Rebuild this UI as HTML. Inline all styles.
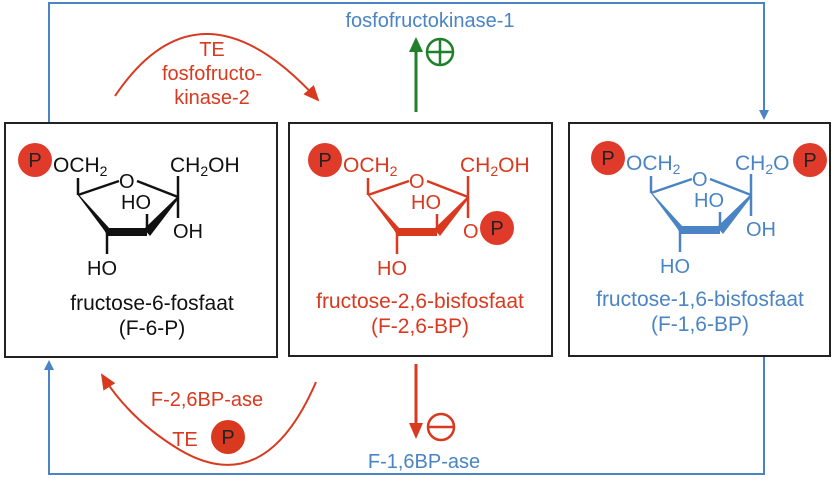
<!DOCTYPE html>
<html><head><meta charset="utf-8"><style>
html,body{margin:0;padding:0;background:#fff;}
svg{display:block;font-family:"Liberation Sans",Arial,sans-serif;}
</style></head><body>
<svg width="834" height="481" viewBox="0 0 834 481" xmlns="http://www.w3.org/2000/svg">
<defs>
<g id="mol">
  <line x1="78" y1="178" x2="78" y2="195" stroke-width="2.5"/>
  <line x1="78" y1="195" x2="119" y2="181" stroke-width="2.5"/>
  <line x1="137" y1="181" x2="178" y2="197" stroke-width="2.5"/>
  <polygon points="77,194 80,196 110,229 107,235 104,230" stroke="none"/>
  <polygon points="106,228 147,228 147,236 106,236" stroke="none"/>
  <polygon points="144,229 178,196 179,198 150,236" stroke="none"/>
  <line x1="147" y1="232" x2="147" y2="214" stroke-width="2.5"/>
  <line x1="107" y1="232" x2="107" y2="254" stroke-width="2.5"/>
  <line x1="178" y1="176" x2="178" y2="197" stroke-width="2.5"/>
  <line x1="178" y1="197" x2="178" y2="218" stroke-width="2.5"/>
  <text x="119" y="188" font-size="20" stroke="none">O</text>
  <text x="53" y="172" font-size="21" stroke="none">OCH<tspan font-size="14" dy="4">2</tspan></text>
  <text x="121" y="209" font-size="20" stroke="none">HO</text>
  <text x="87" y="275" font-size="20" stroke="none">HO</text>
  <circle cx="35" cy="160" r="17" fill="#e03a2a" stroke="none"/>
  <text x="35" y="167" font-size="20" fill="#222" stroke="none" text-anchor="middle">P</text>
</g>
<marker id="ab" markerWidth="10" markerHeight="10" refX="8" refY="5" orient="auto" markerUnits="userSpaceOnUse"><path d="M0,0 L10,5 L0,10 z" fill="#4a84c4"/></marker>
<marker id="ar" markerWidth="16" markerHeight="14" refX="14" refY="7" orient="auto" markerUnits="userSpaceOnUse"><path d="M0,0 L16,7 L0,14 z" fill="#d8391f"/></marker>
</defs>

<polyline points="49,122 49,3 764,3 764,118" fill="none" stroke="#4a84c4" stroke-width="2" marker-end="url(#ab)"/>
<polyline points="764,356 764,474 49,474 49,362" fill="none" stroke="#4a84c4" stroke-width="2" marker-end="url(#ab)"/>

<rect x="5" y="123" width="272" height="234" fill="#fff" stroke="#222" stroke-width="2"/>
<rect x="289" y="123" width="263" height="233" fill="#fff" stroke="#222" stroke-width="2"/>
<rect x="569" y="123" width="261" height="233" fill="#fff" stroke="#222" stroke-width="2"/>

<g fill="#111" stroke="#111"><use href="#mol"/>
<text x="170" y="172" font-size="21" stroke="none">CH<tspan font-size="14" dy="4">2</tspan><tspan dy="-4">OH</tspan></text>
<text x="173" y="238" font-size="20" stroke="none">OH</text></g>
<text x="152" y="310" font-size="21" fill="#111" text-anchor="middle">fructose-6-fosfaat</text>
<text x="152" y="335" font-size="21" fill="#111" text-anchor="middle">(F-6-P)</text>

<g fill="#d8391f" stroke="#d8391f" transform="translate(290,0)"><use href="#mol"/>
<text x="170" y="172" font-size="21" stroke="none">CH<tspan font-size="14" dy="4">2</tspan><tspan dy="-4">OH</tspan></text>
<text x="173" y="238" font-size="20" stroke="none">O</text>
<circle cx="207" cy="228" r="17" fill="#e03a2a" stroke="none"/>
<text x="207" y="235" font-size="20" fill="#222" stroke="none" text-anchor="middle">P</text></g>
<text x="420" y="308" font-size="21" fill="#d8391f" text-anchor="middle">fructose-2,6-bisfosfaat</text>
<text x="420" y="333" font-size="21" fill="#d8391f" text-anchor="middle">(F-2,6-BP)</text>

<g fill="#4a84c4" stroke="#4a84c4" transform="translate(573,-2)"><use href="#mol"/>
<text x="162" y="172" font-size="21" stroke="none">CH<tspan font-size="14" dy="4">2</tspan><tspan dy="-4">O</tspan></text>
<text x="173" y="238" font-size="20" stroke="none">OH</text>
<circle cx="237" cy="162" r="17" fill="#e03a2a" stroke="none"/>
<text x="237" y="169" font-size="20" fill="#222" stroke="none" text-anchor="middle">P</text></g>
<text x="700" y="306" font-size="21" fill="#4a84c4" text-anchor="middle">fructose-1,6-bisfosfaat</text>
<text x="700" y="331" font-size="21" fill="#4a84c4" text-anchor="middle">(F-1,6-BP)</text>

<text x="430" y="27" font-size="20" fill="#4a84c4" text-anchor="middle">fosfofructokinase-1</text>
<line x1="416" y1="112" x2="416" y2="50" stroke="#1f7f2a" stroke-width="3"/>
<path d="M409,52 L416,37 L423,52 z" fill="#1f7f2a"/>
<circle cx="440" cy="52" r="13" fill="none" stroke="#1f7f2a" stroke-width="2.5"/>
<line x1="428" y1="52" x2="452" y2="52" stroke="#1f7f2a" stroke-width="2.5"/>
<line x1="440" y1="40" x2="440" y2="64" stroke="#1f7f2a" stroke-width="2.5"/>

<path d="M115,96 Q200,-30 318,100" fill="none" stroke="#d8391f" stroke-width="2" marker-end="url(#ar)"/>
<text x="212" y="56" font-size="20" fill="#d8391f" text-anchor="middle">TE</text>
<text x="212" y="80" font-size="20" fill="#d8391f" text-anchor="middle">fosfofructo-</text>
<text x="212" y="104" font-size="20" fill="#d8391f" text-anchor="middle">kinase-2</text>

<line x1="416" y1="364" x2="416" y2="425" stroke="#d8391f" stroke-width="3"/>
<path d="M409,423 L416,439 L423,423 z" fill="#d8391f"/>
<circle cx="441" cy="427" r="13" fill="none" stroke="#d8391f" stroke-width="2.5"/>
<line x1="429" y1="427" x2="453" y2="427" stroke="#d8391f" stroke-width="2.5"/>
<text x="424" y="468" font-size="20" fill="#4a84c4" text-anchor="middle">F-1,6BP-ase</text>

<path d="M316,382 Q265,500 180,450 Q130,420 102,375" fill="none" stroke="#d8391f" stroke-width="2" marker-end="url(#ar)"/>
<text x="207" y="406" font-size="20" fill="#d8391f" text-anchor="middle">F-2,6BP-ase</text>
<text x="185" y="446" font-size="20" fill="#d8391f" text-anchor="middle">TE</text>
<circle cx="228" cy="437" r="17" fill="#d8391f"/>
<text x="228" y="444" font-size="20" fill="#222" text-anchor="middle">P</text>
</svg>
</body></html>
